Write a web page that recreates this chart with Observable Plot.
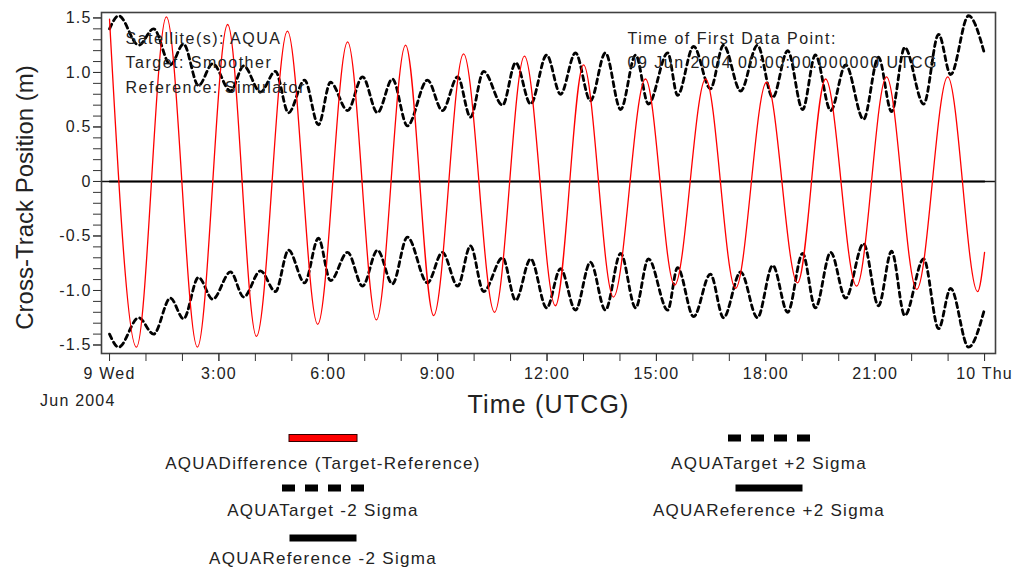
<!DOCTYPE html>
<html><head><meta charset="utf-8">
<script src="https://cdn.jsdelivr.net/npm/d3@7"></script>
<script src="https://cdn.jsdelivr.net/npm/@observablehq/plot@0.6"></script>
<style>
body{margin:0;background:#fff;}
#chart{position:relative;width:1016px;height:569px;overflow:hidden;}
#chart svg{display:block;}
</style></head><body><div id="chart"></div>
<script>
// ---- data (hours after 09 Jun 2004 00:00 UTCG) ----
const diffHours = [0,0.74,1.56,2.41,3.24,4.03,4.88,5.71,6.53,7.32,8.12,8.89,9.71,10.56,11.38,12.23,13.00,13.82,14.70,15.50,16.35,17.17,18.02,18.87,19.64,20.49,21.31,22.14,22.99,23.81,24.0];
const diffValues = [1.49,-1.52,1.51,-1.52,1.44,-1.42,1.38,-1.31,1.28,-1.27,1.25,-1.23,1.17,-1.20,1.15,-1.14,1.07,-1.06,0.94,-0.95,0.94,-0.98,0.91,-0.93,0.94,-0.96,0.96,-0.99,0.96,-1.01,-0.65];
const sigmaHours = [0,0.25,0.80,1.21,1.67,2.03,2.44,2.83,3.32,3.68,4.14,4.55,4.91,5.35,5.73,6.06,6.53,6.94,7.35,7.76,8.17,8.72,9.13,9.55,9.90,10.26,10.78,11.14,11.55,11.99,12.37,12.78,13.19,13.60,14.02,14.43,14.78,15.31,15.58,16.02,16.48,16.84,17.31,17.77,18.19,18.60,19.01,19.36,19.78,20.19,20.68,21.09,21.45,21.81,22.33,22.74,23.07,23.56,24.0];
const sigmaValues = [1.40,1.52,1.25,1.40,1.07,1.26,0.88,1.08,0.83,1.06,0.82,1.01,0.63,0.93,0.52,0.91,0.65,0.96,0.63,0.94,0.51,0.93,0.65,0.96,0.59,1.01,0.70,1.09,0.71,1.16,0.80,1.18,0.74,1.18,0.66,1.16,0.71,1.18,0.79,1.24,0.85,1.25,0.83,1.25,0.77,1.20,0.66,1.16,0.65,1.07,0.57,1.14,0.64,1.23,0.71,1.35,0.98,1.52,1.17];
const referenceHours = [0, 24];
const referenceSigmaValues = [0, 0];
const seriesNames = ["AQUADifference (Target-Reference)","AQUATarget +2 Sigma","AQUATarget -2 Sigma","AQUAReference +2 Sigma","AQUAReference -2 Sigma"];
const xTickHours = [0,3,6,9,12,15,18,21,24];
const xTickLabels = ["9 Wed","3:00","6:00","9:00","12:00","15:00","18:00","21:00","10 Thu"];
const yTickValues = [1.5,1.0,0.5,0,-0.5,-1.0,-1.5];
const yTickLabels = ["1.5","1.0","0.5","0","-0.5","-1.0","-1.5"];
const infoLeft = ["Satellite(s): AQUA","Target: Smoother","Reference: Simulator"];
const infoRight = ["Time of First Data Point:","09 Jun 2004 00:00:00.000000 UTCG"];
const xTitle = "Time (UTCG)";
const yTitle = "Cross-Track Position (m)";
const dateLabel = "Jun 2004";

// ---- tables ----
const diff = diffHours.map((h,i)=>({h, v: diffValues[i]}));
const tPlus = sigmaHours.map((h,i)=>({h, v: sigmaValues[i]}));
const tMinus = sigmaHours.map((h,i)=>({h, v: -sigmaValues[i]}));
const rPlus = referenceHours.map((h,i)=>({h, v: referenceSigmaValues[i]}));
const rMinus = referenceHours.map((h,i)=>({h, v: -referenceSigmaValues[i]}));

const font = "'Liberation Sans', Arial, sans-serif";
const ink = "#222";
const lookup = (vals, labels) => d => { const i = vals.findIndex(v => Math.abs(v - d) < 1e-9); return i < 0 ? "" : labels[i]; };

const plot = Plot.plot({
  width: 1016, height: 420,
  marginLeft: 101, marginRight: 21, marginTop: 12, marginBottom: 67,
  style: {fontFamily: font, fontSize: "16px", color: ink, background: "#fff", letterSpacing: "1.2px"},
  x: {type: "linear", domain: [-0.22, 24.3], label: null},
  y: {domain: [-1.578, 1.55], label: null},
  marks: [
    Plot.ruleY([0], {stroke: "#111", strokeWidth: 1.5}),
    Plot.line(rPlus, {x: "h", y: "v", stroke: "#000", strokeWidth: 1.5}),
    Plot.line(rMinus, {x: "h", y: "v", stroke: "#000", strokeWidth: 1.5}),
    Plot.line(tPlus, {x: "h", y: "v", stroke: "#000", strokeWidth: 2.8, strokeDasharray: "5,4", curve: "monotone-x"}),
    Plot.line(tMinus, {x: "h", y: "v", stroke: "#000", strokeWidth: 2.8, strokeDasharray: "5,4", curve: "monotone-x"}),
    Plot.line(diff, {x: "h", y: "v", stroke: "#ff0000", strokeWidth: 1.3, curve: "monotone-x"}),
    Plot.frame({stroke: "#404040", strokeWidth: 1.6}),
    Plot.axisX({ticks: d3.range(0, 25), tickSize: 8, tickFormat: () => "", label: null, stroke: "#333"}),
    Plot.axisX({ticks: xTickHours, tickSize: 8, tickPadding: 6, tickFormat: lookup(xTickHours, xTickLabels), label: null, stroke: "#333", fill: ink}),
    Plot.axisY({ticks: d3.range(-15, 16).map(i => i / 10), tickSize: 8, tickFormat: () => "", label: null, stroke: "#333"}),
    Plot.axisY({ticks: yTickValues, tickSize: 8, tickPadding: 2, tickFormat: lookup(yTickValues, yTickLabels), label: null, stroke: "#333", fill: ink}),
    Plot.text([dateLabel], {x: 0, frameAnchor: "bottom", lineAnchor: "middle", textAnchor: "end", dx: 6, dy: 47, fill: ink}),
    Plot.text([xTitle], {frameAnchor: "bottom", lineAnchor: "middle", textAnchor: "middle", dy: 51, fontSize: 25, fill: ink}),
    Plot.text([yTitle], {frameAnchor: "left", lineAnchor: "middle", textAnchor: "middle", dx: -76, dy: 14.5, rotate: -90, fontSize: 24, fill: ink}),
    ...infoLeft.map((t, i) => Plot.text([t], {frameAnchor: "top-left", lineAnchor: "middle", textAnchor: "start", dx: 24, dy: 26 + i * 24.5, fill: ink})),
    ...infoRight.map((t, i) => Plot.text([t], {frameAnchor: "top-left", lineAnchor: "middle", textAnchor: "start", dx: 526, dy: 26 + i * 24.5, fill: ink}))
  ]
});

d3.select(plot).selectAll("text").each(function() {
  const t = this.textContent;
  if (t === yTitle) d3.select(this).style("letter-spacing", "0px");
  if (t === xTitle) d3.select(this).style("letter-spacing", "1.2px");
  if (infoLeft.includes(t) || infoRight.includes(t)) d3.select(this).style("letter-spacing", "1.5px");
});

const chart = document.getElementById("chart");
chart.appendChild(plot);

// ---- legend ----
const seriesStroke = ["#ff0000", "#000", "#000", "#000", "#000"];
const seriesDash = [null, "13,10", "13,10", null, null];
const seriesKind = ["rect", "dash", "dash", "solid", "solid"];
const legend = d3.create("svg").attr("width", 1016).attr("height", 149)
  .style("font-family", font).style("font-size", "17px").style("letter-spacing", "1.3px");
const colCenters = [323, 769];
seriesNames.forEach((name, i) => {
  const col = i % 2, row = Math.floor(i / 2);
  const cx = colCenters[col];
  const sy = 18 + row * 50;
  const g = legend.append("g");
  if (seriesKind[i] === "rect") {
    g.append("rect").attr("x", cx - 34).attr("y", sy - 3.5).attr("width", 68).attr("height", 7)
      .attr("fill", seriesStroke[i]).attr("stroke", "#300").attr("stroke-width", 1);
  } else if (seriesKind[i] === "dash") {
    g.append("line").attr("x1", cx - 41).attr("x2", cx + 41).attr("y1", sy).attr("y2", sy)
      .attr("stroke", seriesStroke[i]).attr("stroke-width", 7).attr("stroke-dasharray", seriesDash[i]);
  } else {
    g.append("line").attr("x1", cx - 33.5).attr("x2", cx + 33.5).attr("y1", sy).attr("y2", sy)
      .attr("stroke", seriesStroke[i]).attr("stroke-width", 7);
  }
  g.append("text").attr("x", cx).attr("y", 43 + row * 47.5).attr("text-anchor", "middle")
    .attr("dominant-baseline", "central").attr("fill", ink).text(name);
});
chart.appendChild(legend.node());
</script></body></html>
